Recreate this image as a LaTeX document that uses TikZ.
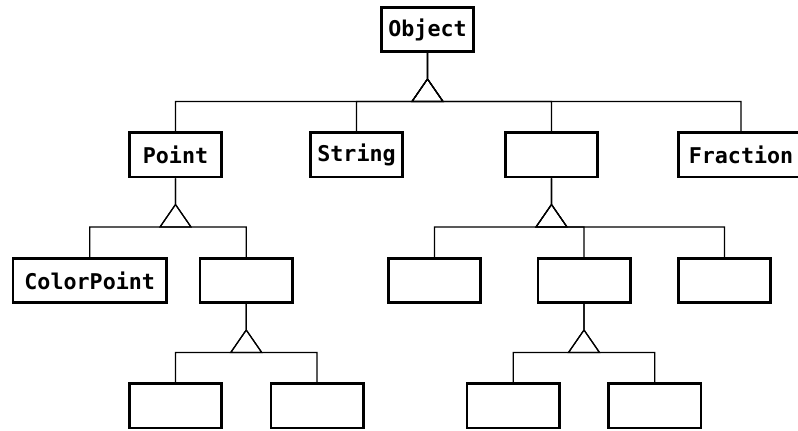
\documentclass[tikz,border=0pt]{standalone}
\usepackage{fontspec}
\newfontfamily\clsfont{DejaVu Sans Mono}
\usetikzlibrary{trees}

\begin{document}
\begin{tikzpicture}[x=1pt,y=1pt,
  classbox/.style={draw,line width=2.6pt,minimum width=92.4pt,minimum height=44.4pt,inner xsep=7pt,
    font=\clsfont\bfseries\fontsize{21.7}{26}\selectfont},
  every node/.style={classbox},
  level distance=125.5pt,
  level 1/.style={sibling distance=188pt},
  level 2/.style={sibling distance=145pt},
  level 3/.style={sibling distance=141.5pt},
  edge from parent/.style={draw,line width=1.2pt},
  edge from parent path={(\tikzparentnode.south) -- ++(0,-26) ++(0,0) -- ++(-15.5,-22.5) -- ++(31,0) -- cycle
    (\tikzparentnode.south) ++(0,-48.5) -| (\tikzchildnode.north)}]
\path[use as bounding box,clip] (0,0) rectangle (798,431);
\node (object) at (427.5,401.5) {Object}
child[xshift=30pt]{node (point) {Point}
  child[sibling distance=156.5pt,xshift=-7.5pt]{node[minimum width=153.4pt] (colorpoint) {ColorPoint}}
  child[sibling distance=156.5pt,xshift=-7.5pt]{node (pointsub) {}
    child{node (pointsubleft) {}} child{node (pointsubright) {}}}}
child[xshift=23pt]{node (string) {String}}
child[xshift=30pt]{node (middle) {}
  child[xshift=28pt]{node (middleleft) {}}
  child[xshift=32.5pt]{node (middlecenter) {}
    child{node (middlecenterleft) {}} child{node (middlecenterright) {}}}
  child[xshift=28pt]{node (middleright) {}}}
child[xshift=31.5pt]{node[minimum width=125.4pt] (fraction) {Fraction}}
;
\end{tikzpicture}
\end{document}
